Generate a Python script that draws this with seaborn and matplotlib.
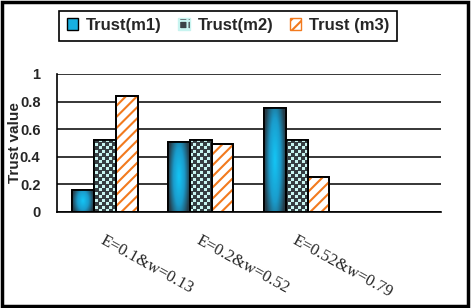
import numpy as np
import pandas as pd
import matplotlib
matplotlib.use("Agg")
import matplotlib.pyplot as plt
import seaborn as sns
from matplotlib.patches import Rectangle, Patch
from matplotlib.colors import LinearSegmentedColormap, ListedColormap
from matplotlib.transforms import ScaledTranslation

# data
categories = ["E=0.1&w=0.13", "E=0.2&w=0.52", "E=0.52&w=0.79", ""]
series = ["Trust(m1)", "Trust(m2)", "Trust (m3)"]
m1 = [0.16, 0.51, 0.75]
m2 = [0.52, 0.52, 0.52]
m3 = [0.84, 0.49, 0.25]
yticks = [0, 0.2, 0.4, 0.6, 0.8, 1]
ytick_labels = ["0", "0.2", "0.4", "0.6", "0.8", "1"]

df = pd.DataFrame({
    "cat": categories[:3] * 3,
    "series": np.repeat(series, 3),
    "value": m1 + m2 + m3,
})

sns.set_style("white")
plt.rcParams["font.family"] = ["Liberation Sans", "DejaVu Sans"]
plt.rcParams["hatch.linewidth"] = 1.5

fig = plt.figure(figsize=(4.74, 3.08), dpi=100)
ax = fig.add_axes([0.120, 0.312, 0.810, 0.448])

sns.barplot(data=df, x="cat", y="value", hue="series", order=categories,
            hue_order=series, width=0.68, palette=["#18b8e8", "#3a4246", "white"],
            saturation=1, edgecolor="black", linewidth=1.3, legend=False, ax=ax)

xlim = (-0.5, 3.5)
ylim = (0, 1)

# gradient fill for m1 (dark edges, bright cyan centre)
blue_cmap = LinearSegmentedColormap.from_list("b", ["#14c4f4", "#1a9ccc", "#263c48"])
gx = np.linspace(-1, 1, 40)
gy = np.linspace(-1, 1, 80)
GX, GY = np.meshgrid(gx, gy)
grad = np.clip(np.sqrt(GX ** 2 + 0.4 * GY ** 2), 0, 1)

# dotted pattern for m2
H, W = 138, 384
yy, xx = np.mgrid[0:H, 0:W]
dots = (((xx % 7) < 3) & ((yy % 7) < 3)) | ((((xx + 4) % 7) < 3) & (((yy + 4) % 7) < 3))
dot_cmap = ListedColormap(["#363e42", "#c8f4f0"])

for bar in ax.containers[0]:
    x0, w, h = bar.get_x(), bar.get_width(), bar.get_height()
    im = ax.imshow(grad, cmap=blue_cmap, extent=[x0, x0 + w, 0, h], aspect="auto",
                   origin="lower", interpolation="bilinear", zorder=2)
    im.set_clip_path(bar)

for bar in ax.containers[1]:
    im = ax.imshow(dots.astype(float), cmap=dot_cmap, extent=[*xlim, *ylim], aspect="auto",
                   origin="lower", interpolation="nearest", zorder=2)
    im.set_clip_path(bar)

for bar in ax.containers[2]:
    ax.add_patch(Rectangle((bar.get_x(), 0), bar.get_width(), bar.get_height(),
                           fill=False, hatch="///", edgecolor="#f27a1e", linewidth=0, zorder=2))

# outlines on top
for cont in ax.containers:
    for bar in cont:
        ax.add_patch(Rectangle((bar.get_x(), 0), bar.get_width(), bar.get_height(),
                               fill=False, edgecolor="black", linewidth=1.3, zorder=3))

ax.set_xlim(*xlim)
ax.set_ylim(*ylim)
ax.set_axisbelow(True)
ax.yaxis.grid(True, color="black", linewidth=1.1)
ax.xaxis.grid(False)
for s in ["top", "right"]:
    ax.spines[s].set_visible(False)
for s in ["left", "bottom"]:
    ax.spines[s].set_color("black")
    ax.spines[s].set_linewidth(1.2)

ax.set_yticks(yticks)
ax.set_yticklabels(ytick_labels, fontsize=10.5, fontweight="bold")
ax.tick_params(axis="y", direction="out", length=3.8, width=1, color="black", pad=8)

ax.set_xticks(range(len(categories)))
ax.set_xticklabels(categories, fontsize=12, family=["Liberation Serif"],
                   rotation=-29, ha="left", va="top", rotation_mode="anchor")
shift = ScaledTranslation(5 / 72, 0, fig.dpi_scale_trans)
for lab in ax.get_xticklabels():
    lab.set_transform(lab.get_transform() + shift)
ax.set_xticks([0.5, 1.5, 2.5, 3.5, -0.5], minor=True)
ax.tick_params(axis="x", which="major", length=0, pad=15)
ax.tick_params(axis="x", which="minor", direction="out", length=3.5, width=1, color="black")

ax.set_xlabel("")
ax.set_ylabel("Trust value", fontsize=11, fontweight="bold", va="center")
ax.yaxis.set_label_coords(-0.108, 0.5)

handles = [
    Patch(facecolor="#18b0e0", edgecolor="black", linewidth=1),
    Patch(facecolor="#3a4246", edgecolor="#c8f4f0", hatch="++", linewidth=1),
    Patch(facecolor="white", edgecolor="#f27a1e", hatch="///", linewidth=1),
]
leg = fig.legend(handles, series, loc="center", bbox_to_anchor=(0.481, 0.917), ncol=3,
                 frameon=True, fancybox=False, edgecolor="black", framealpha=1,
                 prop={"weight": "bold", "size": 12}, handlelength=0.7, handleheight=0.7,
                 handletextpad=0.45, columnspacing=1.0, borderpad=0.45, borderaxespad=0)
leg.get_frame().set_linewidth(1.2)

fig.patches.append(Rectangle((0.004, 0.005), 0.984, 0.99, transform=fig.transFigure,
                             fill=False, edgecolor="black", linewidth=2.5))

fig.savefig("out.png", dpi=100)
